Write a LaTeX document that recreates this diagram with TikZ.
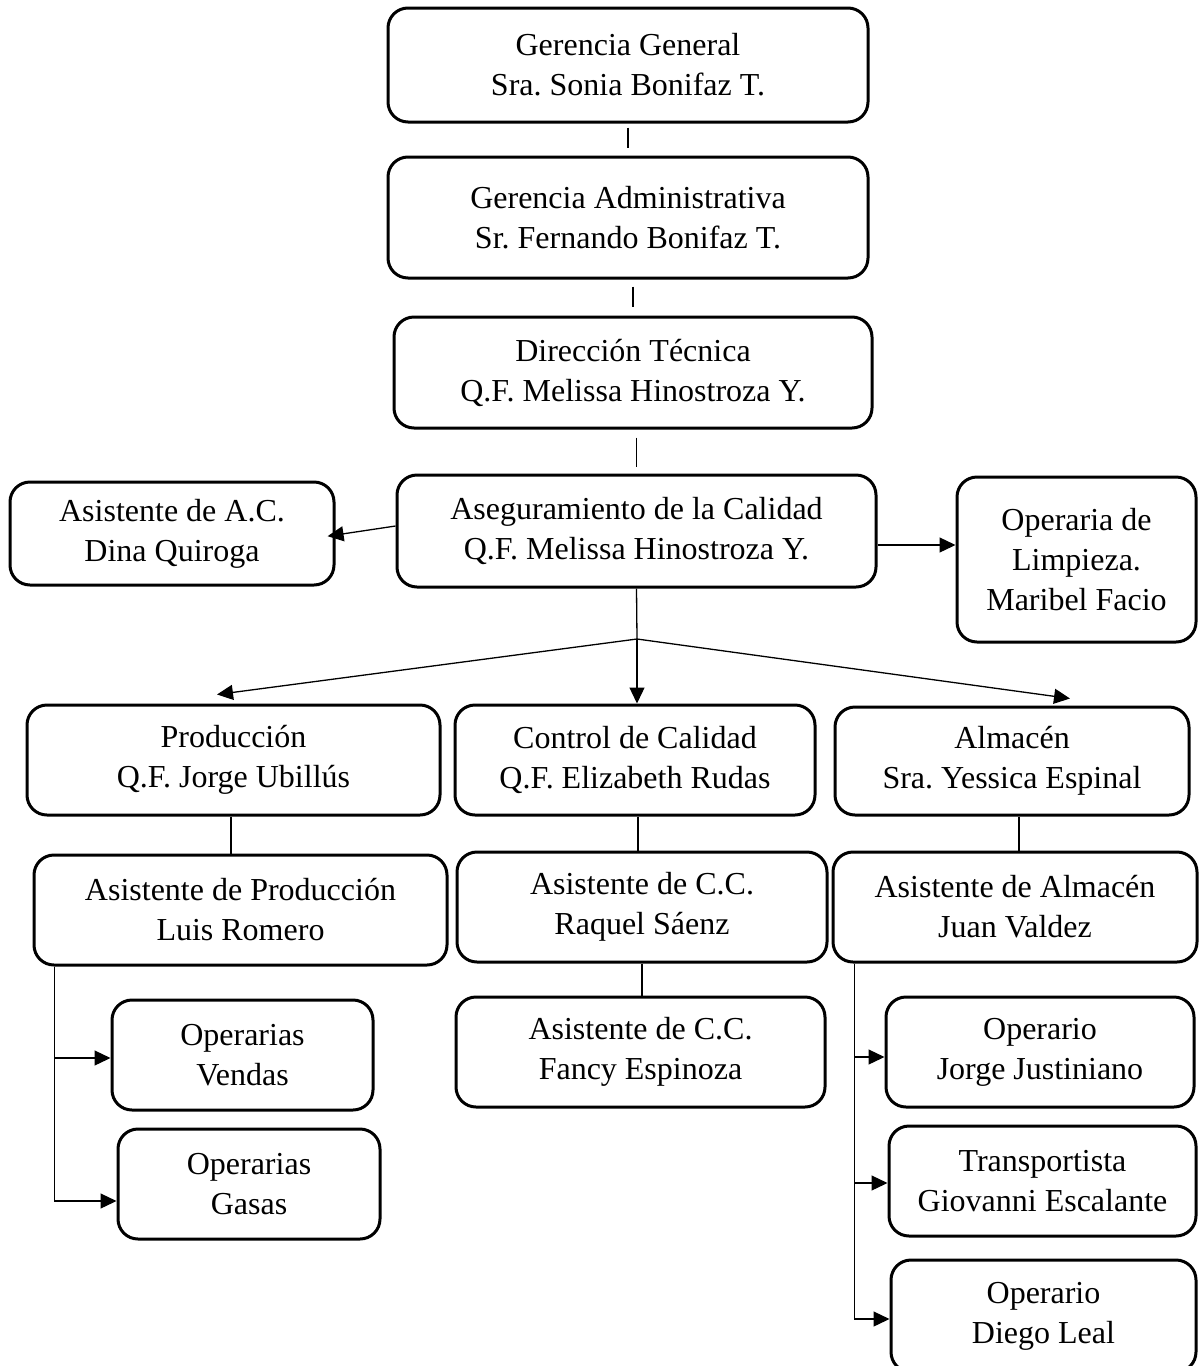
\documentclass[tikz,border=0pt]{standalone}
\usepackage{fontspec}
\setmainfont{Liberation Serif}
\usepackage{tikz}
\usepackage{xcolor}
\usetikzlibrary{arrows.meta}
\frenchspacing
\tikzstyle{box} = [rectangle, rounded corners=20pt, draw=black, line width=3pt, align=center, inner sep=0pt, font=\fontsize{32}{40}\selectfont]
\tikzstyle{link} = [line width=1.3pt]
\tikzstyle{arrow} = [line width=1.3pt,->,>={Triangle[length=16pt,width=15pt]}]

\begin{document}
\begin{tikzpicture}[x=1pt, y=-1pt]
    \clip (0,0) rectangle (1199,1366);
    \node (gg) [box, minimum width=480pt, minimum height=114pt] at (628,65) {Gerencia General\\Sra. Sonia Bonifaz T.};
    \node (ga) [box, minimum width=480pt, minimum height=121pt] at (628,217.5) {Gerencia Administrativa\\Sr. Fernando Bonifaz T.};
    \node (dt) [box, minimum width=478pt, minimum height=111pt] at (633,372.5) {Dirección Técnica\\Q.F. Melissa Hinostroza Y.};
    \node (ac) [box, minimum width=479pt, minimum height=112pt] at (636.5,531) {Aseguramiento de la Calidad\\Q.F. Melissa Hinostroza Y.};
    \node (aac) [box, minimum width=324pt, minimum height=103pt] at (172,533.5) {Asistente de A.C.\\Dina Quiroga};
    \node (ol) [box, minimum width=239pt, minimum height=165pt] at (1076.5,559.5) {Operaria de\\Limpieza.\\Maribel Facio};

    \node (prod) [box, minimum width=413pt, minimum height=110pt] at (233.5,760) {Producción\\Q.F. Jorge Ubillús};
    \node (cc) [box, minimum width=360pt, minimum height=110pt] at (635,760) {Control de Calidad\\Q.F. Elizabeth Rudas};
    \node (alm) [box, minimum width=354pt, minimum height=108pt] at (1012,761) {Almacén\\Sra. Yessica Espinal};

    \node (ap) [box, minimum width=413pt, minimum height=110pt] at (240.5,910) {Asistente de Producción\\Luis Romero};
    \node (acc1) [box, minimum width=370pt, minimum height=110pt] at (642,907) {Asistente de C.C.\\Raquel Sáenz};
    \node (aa) [box, minimum width=364pt, minimum height=110pt] at (1015,907) {Asistente de Almacén\\Juan Valdez};

    \node (ov) [box, minimum width=261pt, minimum height=110pt] at (242.5,1055) {Operarias\\Vendas};
    \node (og) [box, minimum width=262pt, minimum height=110pt] at (249,1184) {Operarias\\Gasas};
    \node (acc2) [box, minimum width=369pt, minimum height=110pt] at (640.5,1052) {Asistente de C.C.\\Fancy Espinoza};
    \node (oj) [box, minimum width=308pt, minimum height=110pt] at (1040,1052) {Operario\\Jorge Justiniano};
    \node (tr) [box, minimum width=307pt, minimum height=110pt] at (1042.5,1181) {Transportista\\Giovanni Escalante};
    \node (od) [box, minimum width=305pt, minimum height=112pt] at (1043.5,1316) {Operario\\Diego Leal};

    \draw [link, shorten <=4pt, shorten >=8pt] (gg) -- (ga);
    \draw [link, shorten <=7pt, shorten >=9pt] (dt.north |- ga.south) -- (dt.north);
    \draw [link, shorten <=8pt, shorten >=7pt] (ac.north |- dt.south) -- (ac.north);
    \draw [arrow, shorten >=-8pt] ([yshift=5pt]ac.west) -- ([yshift=-1.5pt]aac.east);
    \draw [arrow] ([yshift=-14pt]ac.east) -- ([yshift=-14pt]ac.east -| ol.west);

    \coordinate (hub) at (637,639);
    \draw [link] (ac.south) -- (hub);
    \draw [arrow] (hub) -- ([xshift=-16.5pt,yshift=9pt]prod.north);
    \draw [arrow] (hub) -- (hub |- cc.north);
    \draw [arrow] (hub) -- ([xshift=58pt,yshift=7pt]alm.north);

    \draw [link] ([xshift=-2.5pt]prod.south) -- ([xshift=-2.5pt]prod.south |- ap.north);
    \draw [link] ([xshift=3pt]cc.south) -- ([xshift=3pt]cc.south |- acc1.north);
    \draw [link] (acc1.south) -- (acc1.south |- acc2.north);
    \draw [link] ([xshift=7pt]alm.south) -- ([xshift=7pt]alm.south |- aa.north);

    \coordinate (lp) at ([xshift=22pt]ap.south west);
    \draw [arrow] (lp) |- ([yshift=-3pt]ov.west);
    \draw [arrow] (lp) |- ([yshift=-17pt]og.west);

    \coordinate (rp) at ([xshift=23pt]aa.south west);
    \draw [arrow] (rp) |- ([yshift=-5pt]oj.west);
    \draw [arrow] (rp) |- ([yshift=-2pt]tr.west);
    \draw [arrow] (rp) |- ([yshift=-3pt]od.west);
  \end{tikzpicture}
\end{document}
